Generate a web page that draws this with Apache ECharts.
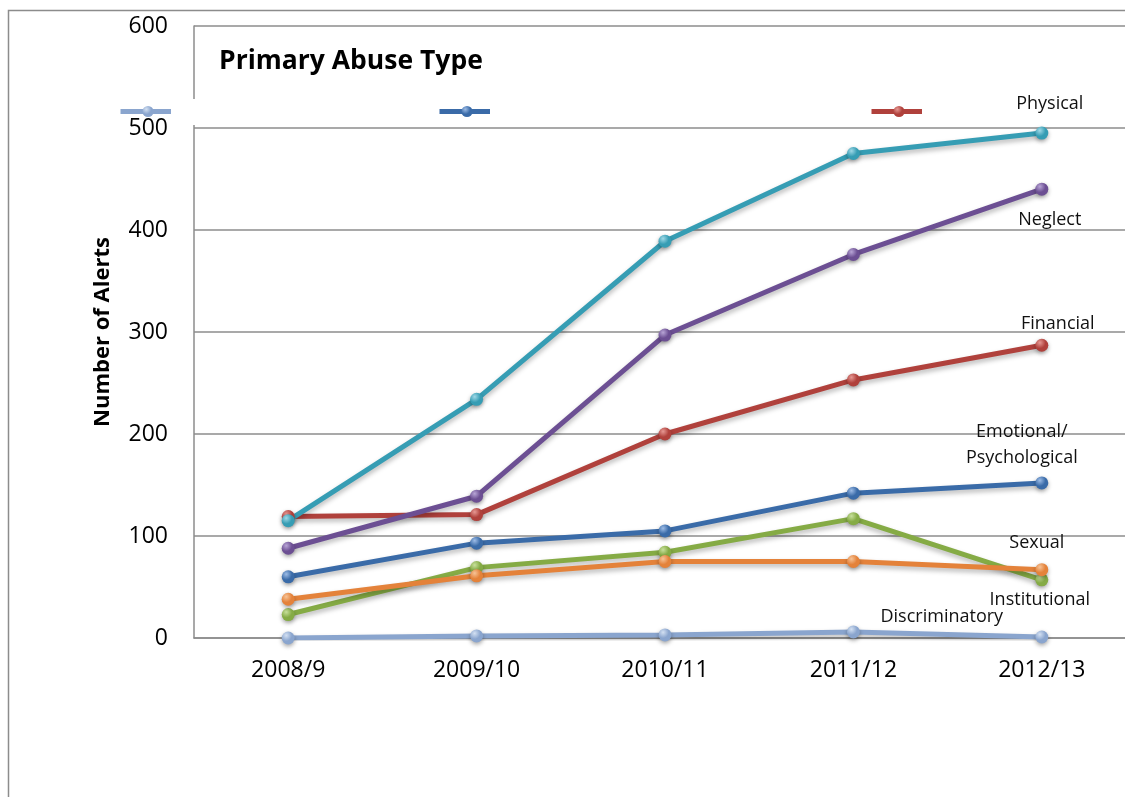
<!DOCTYPE html>
<html>
<head>
<meta charset="utf-8">
<script src="https://cdn.jsdelivr.net/npm/echarts@6/dist/echarts.min.js"></script>
<style>
  html, body { margin: 0; padding: 0; background: #fff; overflow: hidden; }
  #chart { width: 1145px; height: 797px; }
</style>
</head>
<body>
<div id="chart"></div>
<script>
// Alerts by primary abuse type, per financial year
const years = ['2008/9', '2009/10', '2010/11', '2011/12', '2012/13'];
const yTicks = [0, 100, 200, 300, 400, 500, 600];

const physical       = [115, 234, 389, 475, 495];
const neglect        = [88, 139, 297, 376, 440];
const financial      = [119, 121, 200, 253, 287];
const emotional      = [60, 93, 105, 142, 152];
const institutional  = [23, 69, 84, 117, 57];
const sexual         = [38, 61, 75, 75, 67];
const discriminatory = [0, 2, 3, 6, 1];

const seriesNames = ['Discriminatory', 'Emotional / Psychological', 'Financial',
                     'Institutional', 'Neglect', 'Physical', 'Sexual'];
const endLabels = {
  'Discriminatory': 'Discriminatory',
  'Emotional / Psychological': 'Emotional/\nPsychological',
  'Financial': 'Financial',
  'Institutional': 'Institutional',
  'Neglect': 'Neglect',
  'Physical': 'Physical',
  'Sexual': 'Sexual'
};

const FONT = '"Open Sans", "Noto Sans", sans-serif';

// glossy ball marker
function sphere(base, light) {
  return {
    type: 'radial', x: 0.35, y: 0.3, r: 0.8,
    colorStops: [
      { offset: 0, color: light },
      { offset: 0.55, color: base },
      { offset: 1, color: base }
    ]
  };
}

function makeSeries(name, values, color, light, labelOffset) {
  const data = values.map((v, i) => {
    if (i !== values.length - 1) return v;
    return {
      value: v,
      label: {
        show: true,
        position: 'inside',
        offset: labelOffset,
        formatter: endLabels[name],
        color: '#111',
        fontFamily: FONT,
        fontSize: 18,
        lineHeight: 26,
        align: 'center'
      }
    };
  });
  return {
    name: name,
    type: 'line',
    data: data,
    symbol: 'circle',
    symbolSize: 13,
    showAllSymbol: true,
    lineStyle: {
      color: color, width: 5,
      shadowColor: 'rgba(0,0,0,0.28)', shadowBlur: 5, shadowOffsetY: 3
    },
    itemStyle: {
      color: sphere(color, light),
      borderWidth: 0,
      shadowColor: 'rgba(0,0,0,0.35)', shadowBlur: 4, shadowOffsetY: 2
    },
    emphasis: { disabled: true },
    z: 3
  };
}

const series = [
  makeSeries('Discriminatory', discriminatory, '#8aa5ce', '#d3e0f2', [-100, -20]),
  makeSeries('Emotional / Psychological', emotional, '#3a6ba8', '#9dbce6', [-20, -38]),
  makeSeries('Financial', financial, '#b0413c', '#e69893', [16, -21]),
  makeSeries('Institutional', institutional, '#85ab45', '#c8e09c', [-2, 20]),
  makeSeries('Neglect', neglect, '#6c4f93', '#b8a5d6', [8, 31]),
  makeSeries('Physical', physical, '#369db4', '#9fd8e6', [8, -29]),
  makeSeries('Sexual', sexual, '#e4823a', '#f6c397', [-5, -27])
];

function legendFor(name, left) {
  return {
    data: [name],
    left: left,
    top: 97,
    orient: 'horizontal',
    itemWidth: 55,
    itemHeight: 14,
    itemGap: 0,
    selectedMode: false,
    lineStyle: { width: 5 },
    textStyle: { fontFamily: FONT, fontSize: 19, color: '#000' }
  };
}

const chart = echarts.init(document.getElementById('chart'), null, { renderer: 'canvas' });

chart.setOption({
  backgroundColor: '#fff',
  animation: false,
  title: {
    text: 'Primary Abuse Type',
    left: 214,
    top: 43,
    textStyle: { fontFamily: FONT, fontSize: 26.5, fontWeight: 'bold', color: '#000' }
  },
  legend: [
    legendFor(seriesNames[0], 113),
    legendFor(seriesNames[1], 432),
    legendFor(seriesNames[2], 864)
  ],
  grid: { left: 194, top: 26, width: 942, height: 612, containLabel: false },
  xAxis: {
    type: 'category',
    data: years,
    boundaryGap: true,
    axisLine: { lineStyle: { color: '#8c8c8c', width: 1.5 } },
    axisTick: { show: false },
    axisLabel: { fontFamily: FONT, fontSize: 23, color: '#000', margin: 21 }
  },
  yAxis: {
    type: 'value',
    min: yTicks[0],
    max: yTicks[yTicks.length - 1],
    interval: 100,
    name: 'Number of Alerts',
    nameLocation: 'middle',
    nameGap: 80,
    nameTextStyle: { fontFamily: FONT, fontSize: 22, fontWeight: 'bold', color: '#000' },
    axisLine: { show: true, lineStyle: { color: '#8c8c8c', width: 1.5 } },
    axisTick: { show: false },
    axisLabel: { fontFamily: FONT, fontSize: 23, color: '#000', margin: 26 },
    splitLine: { show: true, lineStyle: { color: '#8c8c8c', width: 1.5 } }
  },
  graphic: {
    z: 100,
    elements: [
      // outer chart frame
      { type: 'rect', z: 0, silent: true,
        shape: { x: 8.5, y: 10.5, width: 1300, height: 900 },
        style: { fill: null, stroke: '#8c8c8c', lineWidth: 1.5 } },
      // plot area overlaps the lower part of the legend text
      { type: 'rect', z: 100, silent: true,
        shape: { x: 171, y: 99, width: 250, height: 26 },
        style: { fill: '#fff' } },
      { type: 'rect', z: 100, silent: true,
        shape: { x: 490, y: 99, width: 360, height: 26 },
        style: { fill: '#fff' } },
      { type: 'rect', z: 100, silent: true,
        shape: { x: 922, y: 99, width: 88, height: 26 },
        style: { fill: '#fff' } }
    ]
  },
  series: series
});
</script>
</body>
</html>
